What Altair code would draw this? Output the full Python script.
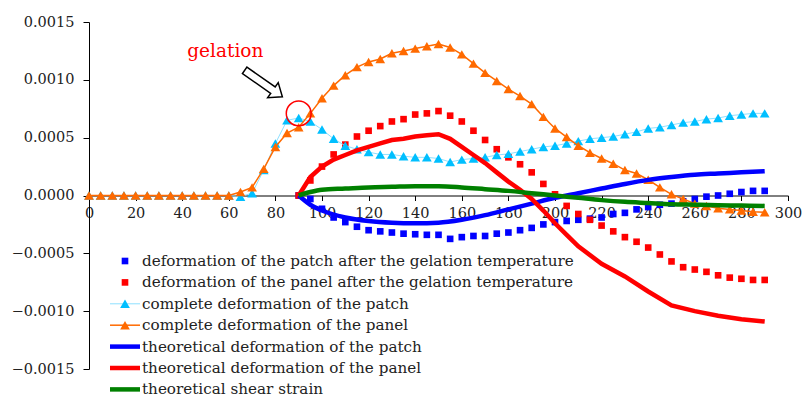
import altair as alt
import pandas as pd

# ---------------- data ----------------
x_full = list(range(0, 295, 5))          # 0 .. 290, complete-deformation series
x_gel = list(range(90, 295, 5))          # 90 .. 290, after gelation

complete_patch = [0, 0, 0, 0, 0, 0, 0, 0, 0, 0, 0, 0, 0,
                  -0.00001, 0.00002, 0.00022, 0.00045, 0.00065, 0.00067, 0.00064,
                  0.00057, 0.00049, 0.00043, 0.00040, 0.000375, 0.000355, 0.000355,
                  0.00034, 0.00033, 0.00033, 0.00032, 0.00029, 0.00031, 0.00032,
                  0.00033, 0.00035, 0.00036, 0.00038, 0.00040, 0.00042, 0.00043,
                  0.00045, 0.00047, 0.00049, 0.00050, 0.00051, 0.00053, 0.00055,
                  0.00058, 0.00059, 0.00061, 0.00063, 0.00064, 0.00066, 0.00067,
                  0.00069, 0.00070, 0.00071, 0.00071]

complete_panel = [0, 0, 0, 0, 0, 0, 0, 0, 0, 0, 0, 0, 0,
                  0.00003, 0.00007, 0.00023, 0.00042, 0.00054, 0.00059, 0.00071,
                  0.00084, 0.00095, 0.00104, 0.00111, 0.001155, 0.00118, 0.00123,
                  0.00125, 0.00127, 0.00129, 0.00131, 0.00128, 0.00122, 0.00114,
                  0.00106, 0.00099, 0.00092, 0.00086, 0.00079, 0.00068, 0.00058,
                  0.000505, 0.00043, 0.00037, 0.00032, 0.000275, 0.00022, 0.00019,
                  0.000136, 0.00007, 0.00001, -0.00003, -0.00007, -0.00009, -0.00011,
                  -0.00012, -0.00013, -0.00014, -0.000145]

patch_after = [0, -0.00003, -0.000115, -0.00019, -0.00023, -0.00027, -0.00030,
               -0.00031, -0.00032, -0.00033, -0.000335, -0.00034, -0.00034,
               -0.000375, -0.00036, -0.00035, -0.00035, -0.00033, -0.00032,
               -0.00030, -0.00028, -0.00025, -0.00023, -0.00022, -0.00021,
               -0.00020, -0.00019, -0.00016, -0.00015, -0.00012, -0.00010,
               -0.00008, -0.00007, -0.00005, -0.00003, -0.00001, 0.0, 0.000015,
               0.00003, 0.00004, 0.00004]

panel_after = [0, 0.00013, 0.00025, 0.000355, 0.00044, 0.00051, 0.00056, 0.00060,
               0.00064, 0.00066, 0.00070, 0.00071, 0.00073, 0.00069, 0.00064,
               0.00056, 0.00048, 0.00040, 0.00033, 0.00027, 0.00020, 0.00010,
               0.00001, -0.00009, -0.00016, -0.00021, -0.00026, -0.00031,
               -0.00036, -0.00040, -0.00045, -0.00051, -0.00057, -0.00062,
               -0.00064, -0.00066, -0.00069, -0.00071, -0.00072, -0.00073,
               -0.00073]

x_theory_patch = [90, 95, 100, 110, 120, 130, 140, 150, 160, 170, 180, 190,
                  200, 210, 220, 230, 240, 250, 260, 270, 280, 290]
theory_patch = [0, -0.00008, -0.00013, -0.00019, -0.00022, -0.000235, -0.00024,
                -0.000235, -0.00021, -0.00017, -0.00012, -0.00007, -0.00002,
                0.00002, 0.00006, 0.00010, 0.000135, 0.00016, 0.00018, 0.00019,
                0.00020, 0.00021]

x_theory_panel = [90, 95, 100, 105, 110, 115, 120, 125, 130, 135, 140, 145, 150,
                  155, 160, 165, 170, 175, 180, 185, 190, 195, 200, 205, 210,
                  220, 230, 240, 250, 260, 270, 280, 290]
theory_panel = [0, 0.00016, 0.00025, 0.00031, 0.00035, 0.00039, 0.00042, 0.00045,
                0.00048, 0.00049, 0.00051, 0.00052, 0.00053, 0.00049, 0.00042,
                0.00035, 0.00028, 0.00020, 0.00012, 0.00005, -0.00003, -0.00013,
                -0.00024, -0.00034, -0.00044, -0.00059, -0.00070, -0.00083,
                -0.00095, -0.00100, -0.00104, -0.00107, -0.00109]

x_shear = [90, 95, 100, 110, 120, 130, 140, 150, 160, 170, 180, 190, 200, 210,
           220, 230, 240, 250, 260, 270, 280, 290]
shear = [0, 0.00003, 0.00005, 0.00006, 0.00007, 0.000075, 0.00008, 0.00008,
         0.00007, 0.000055, 0.00004, 0.00002, 0.0, -0.00002, -0.00004, -0.000055,
         -0.000065, -0.000075, -0.00008, -0.000085, -0.000087, -0.00009]

x_ticks = list(range(0, 301, 20))
y_ticks = [-0.0015, -0.0010, -0.0005, 0.0, 0.0005, 0.0010, 0.0015]

legend_labels = [
    "deformation of the patch after the gelation temperature",
    "deformation of the panel after the gelation temperature",
    "complete deformation of the patch",
    "complete deformation of the panel",
    "theoretical deformation of the patch",
    "theoretical deformation of the panel",
    "theoretical shear strain",
]

# ---------------- styling ----------------
BLUE, RED, GREEN = "#0000FF", "#FF0000", "#008000"
CYAN, CYAN_LINE, ORANGE = "#00BFFF", "#8EE0FF", "#FF6A00"
FONT = "DejaVu Serif"
TEXT = "#222222"
TRI_SIZE = 95
SQ_SIZE = 44

W, H = 699, 347
Y_MIN, Y_MAX = -0.0015, 0.0015

x_enc = alt.X("x:Q",
              scale=alt.Scale(domain=[0, 300], nice=False, zero=False),
              axis=alt.Axis(values=x_ticks, title=None, grid=False,
                            offset=-H * (0 - Y_MIN) / (Y_MAX - Y_MIN),
                            domainColor="black", domainWidth=1,
                            tickColor="black", tickSize=5, tickWidth=1,
                            labelFont=FONT, labelFontSize=14.5, labelColor=TEXT,
                            labelPadding=6, labelFlush=False, labelOverlap=False))
y_enc = alt.Y("y:Q",
              scale=alt.Scale(domain=[Y_MIN, Y_MAX], nice=False, zero=False),
              axis=alt.Axis(values=y_ticks, format=".4f", title=None, grid=False,
                            domainColor="black", domainWidth=1,
                            tickColor="black", tickSize=6, tickWidth=1,
                            labelFont=FONT, labelFontSize=14.5, labelColor=TEXT,
                            labelPadding=9, labelFlush=False, labelOverlap=False))


def frame(xs, ys):
    return pd.DataFrame({"x": xs, "y": ys})


patch_sq = alt.Chart(frame(x_gel, patch_after)).mark_point(
    shape="square", filled=True, size=SQ_SIZE, color=BLUE, opacity=1
).encode(x=x_enc, y=y_enc)

panel_sq = alt.Chart(frame(x_gel, panel_after)).mark_point(
    shape="square", filled=True, size=SQ_SIZE, color=RED, opacity=1
).encode(x=x_enc, y=y_enc)

cyan_base = alt.Chart(frame(x_full, complete_patch)).encode(x=x_enc, y=y_enc)
cyan_line = cyan_base.mark_line(color=CYAN_LINE, strokeWidth=1)
cyan_tri = cyan_base.mark_point(shape="triangle-up", filled=True, size=TRI_SIZE,
                                color=CYAN, opacity=1)

orange_base = alt.Chart(frame(x_full, complete_panel)).encode(x=x_enc, y=y_enc)
orange_line = orange_base.mark_line(color=ORANGE, strokeWidth=1.5)
orange_tri = orange_base.mark_point(shape="triangle-up", filled=True, size=TRI_SIZE,
                                    color=ORANGE, opacity=1)

th_patch = alt.Chart(frame(x_theory_patch, theory_patch)).mark_line(
    color=BLUE, strokeWidth=4.5, interpolate="monotone"
).encode(x=x_enc, y=y_enc)
th_panel = alt.Chart(frame(x_theory_panel, theory_panel)).mark_line(
    color=RED, strokeWidth=4.5
).encode(x=x_enc, y=y_enc)
th_shear = alt.Chart(frame(x_shear, shear)).mark_line(
    color=GREEN, strokeWidth=4.5, interpolate="monotone"
).encode(x=x_enc, y=y_enc)

# ---- gelation annotation: label, arrow and circle around the onset point ----
gel_text = alt.Chart(pd.DataFrame({"x": [58.5], "y": [0.00125], "t": ["gelation"]})
                     ).mark_text(font=FONT, fontSize=18.5, color=RED,
                                 baseline="middle", align="center"
                                 ).encode(x=x_enc, y=y_enc, text="t:N")

ARROW = ("M -1 -0.17 L 0.5 -0.17 L 0.5 -0.4 L 1 0 L 0.5 0.4 "
         "L 0.5 0.17 L -1 0.17 Z")
gel_arrow = alt.Chart(pd.DataFrame({"x": [74.9], "y": [0.000968]})).mark_point(
    shape=ARROW, size=2116, angle=35, filled=True, fill="white",
    stroke="black", strokeWidth=1.5, opacity=1
).encode(x=x_enc, y=y_enc)

gel_circle = alt.Chart(pd.DataFrame({"x": [90], "y": [0.00071]})).mark_point(
    shape="circle", size=616, filled=False, color=RED, strokeWidth=1.5, opacity=1
).encode(x=x_enc, y=y_enc)

# ---------------- legend (drawn below the zero axis, inside the frame) ----------------
LEG_TOP, LEG_STEP = 239, 21.4        # row centres relative to plot top
SYM_X0, SYM_X1, TXT_X = 21, 51, 53   # relative to plot left
legend_layers = []
styles = [("sq", BLUE), ("sq", RED), ("tri", CYAN), ("tri", ORANGE),
          ("thick", BLUE), ("thick", RED), ("thick", GREEN)]
for i, (label, (kind, col)) in enumerate(zip(legend_labels, styles)):
    yy = LEG_TOP + i * LEG_STEP
    one = pd.DataFrame({"t": [label]})
    legend_layers.append(
        alt.Chart(one).mark_text(font=FONT, fontSize=15.2, color=TEXT,
                                 align="left", baseline="middle")
        .encode(x=alt.value(TXT_X), y=alt.value(yy), text="t:N"))
    if kind == "sq":
        legend_layers.append(
            alt.Chart(one).mark_point(shape="square", filled=True, size=SQ_SIZE,
                                      color=col, opacity=1)
            .encode(x=alt.value((SYM_X0 + SYM_X1) / 2), y=alt.value(yy)))
    elif kind == "tri":
        line_col = CYAN_LINE if col == CYAN else col
        legend_layers.append(
            alt.Chart(one).mark_rule(color=line_col,
                                     strokeWidth=1 if col == CYAN else 1.5)
            .encode(x=alt.value(SYM_X0), x2=alt.value(SYM_X1), y=alt.value(yy)))
        legend_layers.append(
            alt.Chart(one).mark_point(shape="triangle-up", filled=True, size=TRI_SIZE,
                                      color=col, opacity=1)
            .encode(x=alt.value((SYM_X0 + SYM_X1) / 2), y=alt.value(yy)))
    else:
        legend_layers.append(
            alt.Chart(one).mark_rule(color=col, strokeWidth=4.5)
            .encode(x=alt.value(SYM_X0), x2=alt.value(SYM_X1), y=alt.value(yy)))

chart = alt.layer(
    patch_sq, panel_sq, cyan_line, cyan_tri, orange_line, orange_tri,
    th_patch, th_panel, th_shear, gel_text, gel_arrow, gel_circle,
    *legend_layers
).properties(
    width=W, height=H,
    autosize=alt.AutoSizeParams(type="none"),
    padding={"left": 89, "top": 22, "right": 17, "bottom": 30},
    background="white",
).configure_view(stroke=None)

chart.save("out.html", embed_options={"renderer": "svg", "actions": False})
